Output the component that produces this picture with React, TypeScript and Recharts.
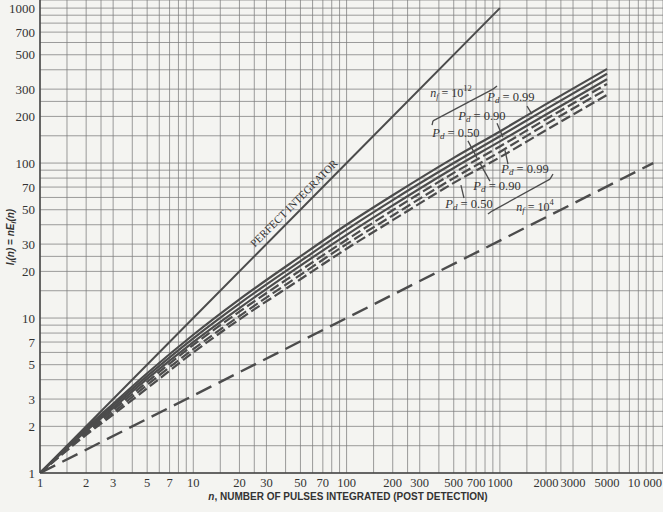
import React from 'react';
import { LineChart, Line, XAxis, YAxis, CartesianGrid, ReferenceDot, ReferenceLine } from 'recharts';

// pulses integrated
const nValues = [1, 2, 3, 5, 10, 20, 50, 100, 200, 500, 1000, 2000, 5000];

// n_f = 10^12
const solid99 = [1, 1.95, 2.8, 4.4, 7.8, 13.2, 25, 40, 62, 108, 160, 240, 405];
const solid90 = [1, 1.91, 2.72, 4.22, 7.4, 12.4, 23.3, 37.2, 57.7, 100, 149, 223, 377];
const solid50 = [1, 1.87, 2.63, 4.05, 7.0, 11.6, 21.8, 34.4, 53.3, 93, 138, 206, 348];
// n_f = 10^4
const dashed99 = [1, 1.83, 2.55, 3.87, 6.7, 11.0, 20.3, 32, 49.6, 86.4, 128, 192, 324];
const dashed90 = [1, 1.79, 2.46, 3.7, 6.3, 10.3, 19, 30, 45.9, 80, 118, 178, 300];
const dashed50 = [1, 1.76, 2.38, 3.52, 6.0, 9.8, 17.8, 28, 42.8, 74.5, 109, 163, 275];

const perfectN = [1, 10, 100, 1000];
const perfectI = [1, 10, 100, 1000];

const lowerN = [1, 10, 100, 1000, 10000];
const lowerI = [1, 3.16, 10, 31.6, 100];

const xGrid = [
  1, 1.5, 2, 2.5, 3, 4, 5, 6, 7, 8, 9,
  10, 15, 20, 25, 30, 40, 50, 60, 70, 80, 90,
  100, 150, 200, 250, 300, 400, 500, 600, 700, 800, 900,
  1000, 1500, 2000, 2500, 3000, 4000, 5000, 6000, 7000, 8000, 9000,
  10000,
];
const yGrid = [
  1, 1.5, 2, 2.5, 3, 4, 5, 6, 7, 8, 9,
  10, 15, 20, 25, 30, 40, 50, 60, 70, 80, 90,
  100, 150, 200, 250, 300, 400, 500, 600, 700, 800, 900,
  1000,
];
const xLabels = [1, 2, 3, 5, 7, 10, 20, 30, 50, 70, 100, 200, 300, 500, 700, 1000, 2000, 3000, 5000, 10000];
const yLabels = [1, 2, 3, 5, 7, 10, 20, 30, 50, 70, 100, 200, 300, 500, 700, 1000];

const toSeries = (xs: number[], ys: number[]) => xs.map((n, i) => ({ n, v: ys[i] }));

const curves = [
  { key: 's99', values: solid99, dash: undefined },
  { key: 's90', values: solid90, dash: undefined },
  { key: 's50', values: solid50, dash: undefined },
  { key: 'd99', values: dashed99, dash: '10 4' },
  { key: 'd90', values: dashed90, dash: '10 4' },
  { key: 'd50', values: dashed50, dash: '10 4' },
];

// annotation anchors, in data units
const pdLabels = [
  { x: 1181, y: 262, text: '0.99' },
  { x: 764, y: 198, text: '0.90' },
  { x: 517, y: 154, text: '0.50' },
  { x: 1458, y: 90, text: '0.99' },
  { x: 958, y: 70, text: '0.90' },
  { x: 629, y: 53.6, text: '0.50' },
];
const nfLabels = [
  { x: 480, y: 279, exp: '12' },
  { x: 1694, y: 51.2, exp: '4' },
];
const leaders = [
  [{ x: 1503, y: 233 }, { x: 1619, y: 207 }],
  [{ x: 958, y: 181 }, { x: 1047, y: 147 }],
  [{ x: 619, y: 139 }, { x: 709, y: 108 }],
  [{ x: 1079, y: 121 }, { x: 1130, y: 98.6 }],
  [{ x: 741, y: 100 }, { x: 861, y: 76.5 }],
  [{ x: 557, y: 72.1 }, { x: 583, y: 59.5 }],
  // brackets
  [{ x: 361, y: 176 }, { x: 366, y: 187 }],
  [{ x: 366, y: 187 }, { x: 902, y: 300 }],
  [{ x: 902, y: 300 }, { x: 958, y: 314 }],
  [{ x: 836, y: 46.9 }, { x: 889, y: 49 }],
  [{ x: 889, y: 49 }, { x: 2123, y: 78.8 }],
  [{ x: 2123, y: 78.8 }, { x: 2220, y: 85 }],
];

const ink = '#4c4c4c';
const serif = '"Liberation Serif", "DejaVu Serif", serif';
const sans = '"Liberation Sans", Arial, sans-serif';

const fmtY = (v: number) => (yLabels.includes(v) ? String(v) : '');

const XTick = ({ x, y, payload }: any) => {
  const v = payload.value;
  if (!xLabels.includes(v)) return null;
  const last = v === 10000;
  return (
    <text
      x={last ? 662 : x}
      y={y}
      dy="0.71em"
      textAnchor={last ? 'end' : 'middle'}
      fontFamily={serif}
      fontSize={12.5}
      fill="#333"
    >
      {last ? '10 000' : String(v)}
    </text>
  );
};

const XTitle = () => (
  <text x={348} y={500} textAnchor="middle" fontFamily={sans} fontSize={10} fontWeight="bold" fill="#333">
    <tspan fontStyle="italic">n</tspan>, NUMBER OF PULSES INTEGRATED (POST DETECTION)
  </text>
);

const YTitle = () => (
  <text
    x={14}
    y={237}
    transform="rotate(-90 14 237)"
    textAnchor="middle"
    fontFamily={sans}
    fontSize={10}
    fontWeight="bold"
    fontStyle="italic"
    fill="#333"
  >
    I<tspan fontSize={7} dy={2}>i</tspan>
    <tspan dy={-2}>(n) = nE</tspan>
    <tspan fontSize={7} dy={2}>i</tspan>
    <tspan dy={-2}>(n)</tspan>
  </text>
);

export default function App() {
  return (
    <div style={{ position: 'absolute', left: 0, top: 0, width: 663, height: 512, background: '#f4f4f1' }}>
      <LineChart width={663} height={512} margin={{ top: 0, right: 0, bottom: 0, left: 0 }}>
        <CartesianGrid stroke="#7c7c7c" strokeOpacity={0.75} />
        <XAxis
          dataKey="n"
          type="number"
          scale="log"
          domain={[1, 11590]}
          allowDataOverflow
          ticks={xGrid}
          interval={0}
          tick={<XTick />}
          tickLine={false}
          tickSize={3}
          tickMargin={2}
          height={39}
          axisLine={{ stroke: '#444', strokeWidth: 1.5 }}
          label={XTitle}
        />
        <YAxis
          dataKey="v"
          type="number"
          scale="log"
          domain={[1, 1128]}
          allowDataOverflow
          ticks={yGrid}
          interval={0}
          tickFormatter={fmtY}
          tickLine={false}
          tickSize={3}
          tickMargin={2}
          width={40}
          axisLine={{ stroke: '#444', strokeWidth: 1.5 }}
          tick={{ fontFamily: serif, fontSize: 13, fill: '#333' }}
          label={YTitle}
        />
        <Line
          data={toSeries(perfectN, perfectI)}
          dataKey="v"
          stroke={ink}
          strokeWidth={2}
          dot={false}
          isAnimationActive={false}
        />
        <Line
          data={toSeries(lowerN, lowerI)}
          dataKey="v"
          stroke={ink}
          strokeWidth={2.4}
          strokeDasharray="17 8"
          dot={false}
          isAnimationActive={false}
        />
        {curves.map((c) => (
          <Line
            key={c.key}
            data={toSeries(nValues, c.values)}
            dataKey="v"
            type="monotone"
            stroke={ink}
            strokeWidth={2.2}
            strokeDasharray={c.dash}
            dot={false}
            isAnimationActive={false}
          />
        ))}
        {leaders.map((seg, i) => (
          <ReferenceLine key={i} segment={seg} stroke={ink} strokeWidth={1.3} />
        ))}
        <ReferenceDot
          x={46}
          y={54.4}
          r={0}
          shape={(p: any) => (
            <text
              x={p.cx}
              y={p.cy}
              transform={`rotate(-45 ${p.cx} ${p.cy})`}
              textAnchor="middle"
              dominantBaseline="middle"
              fontFamily={serif}
              fontSize={11}
              fill="#333"
            >
              PERFECT INTEGRATOR
            </text>
          )}
        />
        {pdLabels.map((l, i) => (
          <ReferenceDot
            key={'pd' + i}
            x={l.x}
            y={l.y}
            r={0}
            shape={(p: any) => (
              <text
                x={p.cx}
                y={p.cy}
                textAnchor="middle"
                dominantBaseline="middle"
                fontFamily={serif}
                fontSize={12.5}
                fill="#333"
              >
                <tspan fontStyle="italic">P</tspan>
                <tspan fontStyle="italic" fontSize={9} dy={3}>d</tspan>
                <tspan dy={-3}>{' = ' + l.text}</tspan>
              </text>
            )}
          />
        ))}
        {nfLabels.map((l, i) => (
          <ReferenceDot
            key={'nf' + i}
            x={l.x}
            y={l.y}
            r={0}
            shape={(p: any) => (
              <text
                x={p.cx}
                y={p.cy}
                textAnchor="middle"
                dominantBaseline="middle"
                fontFamily={serif}
                fontSize={12}
                fill="#333"
              >
                <tspan fontStyle="italic">n</tspan>
                <tspan fontStyle="italic" fontSize={8.5} dy={3}>f</tspan>
                <tspan dy={-3}>{' = 10'}</tspan>
                <tspan fontSize={8.5} dy={-5}>{l.exp}</tspan>
              </text>
            )}
          />
        ))}
      </LineChart>
    </div>
  );
}
